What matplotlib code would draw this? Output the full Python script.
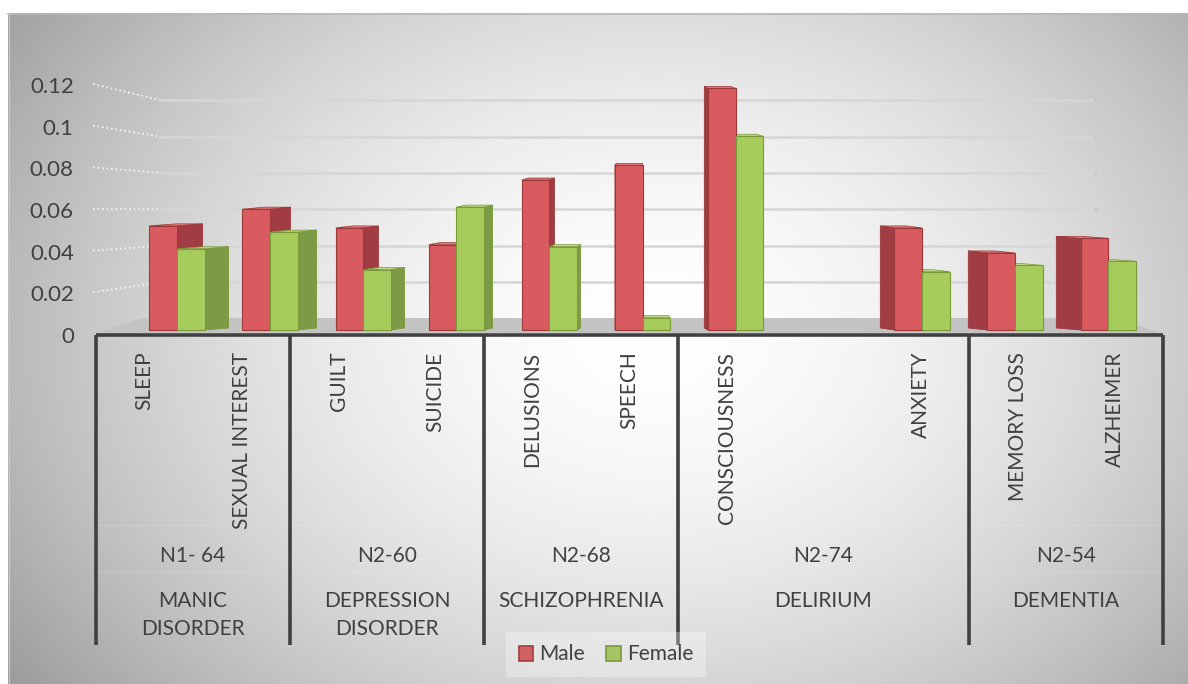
import numpy as np
import matplotlib
matplotlib.use('Agg')
import matplotlib.pyplot as plt
from matplotlib.patches import Polygon, Patch

plt.rcParams['font.family'] = ['Lato', 'DejaVu Sans']

# ---------------- data ----------------
symptoms = ['SLEEP', 'SEXUAL INTEREST', 'GUILT', 'SUICIDE', 'DELUSIONS', 'SPEECH',
            'CONSCIOUSNESS', '', 'ANXIETY', 'MEMORY LOSS', 'ALZHEIMER']
male = [0.050, 0.058, 0.049, 0.041, 0.072, 0.079, 0.116, np.nan, 0.049, 0.037, 0.044]
female = [0.039, 0.047, 0.029, 0.059, 0.040, 0.006, 0.093, np.nan, 0.028, 0.031, 0.033]
samples = ['N1- 64', 'N2-60', 'N2-68', 'N2-74', 'N2-54']
groups = ['MANIC\nDISORDER', 'DEPRESSION\nDISORDER', 'SCHIZOPHRENIA', 'DELIRIUM', 'DEMENTIA']
group_sizes = [2, 2, 2, 3, 2]
yticks = [0, 0.02, 0.04, 0.06, 0.08, 0.1, 0.12]
ytick_labels = ['0', '0.02', '0.04', '0.06', '0.08', '0.1', '0.12']
series_names = ['Male', 'Female']

# ---------------- styling ----------------
TXT = '#404040'
M_FRONT, M_SIDE, M_TOP, M_EDGE = '#d95b5f', '#a23c44', '#e27a7c', '#9c3a3a'
F_FRONT, F_SIDE, F_TOP, F_EDGE = '#a6cd5c', '#7c9b47', '#bcd985', '#7a9a3a'
FS = 15

W, H = 1188, 684
fig = plt.figure(figsize=(W / 100, H / 100), dpi=100)

# background layer in pixel coordinates
bg = fig.add_axes([0, 0, 1, 1])
bg.set_xlim(0, W)
bg.set_ylim(H, 0)
bg.axis('off')
yy, xx = np.mgrid[0:H, 0:W]
r = np.sqrt(((xx - 650) / 640.0) ** 2 + ((yy - 330) / 480.0) ** 2)
g = 1 - 0.27 * np.clip(r, 0, 1.3) ** 1.7
g[(xx < 8) | (yy < 13)] = 1.0
bg.imshow(np.dstack([g, g, g]), extent=(0, W, H, 0), interpolation='bilinear',
          aspect='auto', zorder=0)
bg.plot([8, W], [13.5, 13.5], color='#b8b8b8', lw=1.2, zorder=1)
bg.plot([8.5, 8.5], [13, H], color='#c8c8c8', lw=0.8, zorder=1)

# main axes geometry (pixels)
AX_L, AX_R, AX_B, AX_T = 96, 1163, 335, 85
ax = fig.add_axes([AX_L / W, (H - AX_B) / H, (AX_R - AX_L) / W, (AX_B - AX_T) / H])
ax.patch.set_alpha(0)
for s in ax.spines.values():
    s.set_visible(False)
n = len(symptoms)
ax.set_xlim(-0.5, n - 0.5)
ax.set_ylim(0, 0.12)
ax.set_yticks(yticks)
ax.set_yticklabels(ytick_labels, fontsize=16, color=TXT)
ax.set_xticks(range(n))
ax.set_xticklabels(symptoms, rotation=90, fontsize=FS, color=TXT, va='top', ha='center')
ax.tick_params(axis='both', length=0)
ax.tick_params(axis='y', pad=16)
ax.tick_params(axis='x', pad=12)

ypx = (AX_B - AX_T) / 0.12  # pixels per unit value
slot = (AX_R - AX_L) / n

# gridlines on back wall (dotted slant then solid)
for v in yticks[1:]:
    ly = AX_B - v * ypx
    by = 318.5 - v * 1820
    bg.plot([93, 160], [ly - 1, by], color='#f0f0f0', lw=1.3, ls=(0, (1, 1.5)), zorder=2)
    bg.plot([160, 1095], [by, by], color='#d6d6d6', lw=1.8, zorder=2)
    bg.plot([1095], [by], marker='s', ms=2, color='#c8c8c8', zorder=2)

# floor
bg.add_patch(Polygon([(AX_L, 333), (AX_R, 333), (1112, 318), (142, 318)],
                     closed=True, fc='#c3c3c3', ec='none', zorder=2))

# category axis lines
bg.plot([AX_L, AX_R], [AX_B, AX_B], color=TXT, lw=2.6, zorder=3, solid_capstyle='butt')
bounds = np.concatenate([[0], np.cumsum(group_sizes)])
for b in bounds:
    x = AX_L + b * slot
    bg.plot([x, x], [AX_B, 645], color=TXT, lw=2.6, zorder=3, solid_capstyle='butt')
for yl in (525, 571):
    bg.plot([AX_L, AX_R], [yl, yl], color='#eeeeee', lw=0.8, alpha=0.25, zorder=2)
for i in range(len(groups)):
    xc = AX_L + (bounds[i] + bounds[i + 1]) / 2 * slot
    bg.text(xc, 556, samples[i], ha='center', va='center', fontsize=FS, color=TXT, zorder=4)
    bg.text(xc, 591, groups[i], ha='center', va='top', fontsize=FS, color=TXT,
            linespacing=1.5, zorder=4)

# ---------------- pseudo-3D bars ----------------
scale, shift = 0.96, 0.335       # front-plane perspective placement
vp = 5.11                         # horizontal vanishing position (data units)
k = 0.055                         # depth factor
w = 0.285
base = 5 / ypx
dy = 2 / ypx


def draw_bar(x0, x1, v, front, side, top, edge):
    if np.isnan(v):
        return
    xe = x1 if x1 < vp else x0
    s = k * (vp - xe)
    ax.add_patch(Polygon([(xe, base), (xe + s, base + dy), (xe + s, base + v + dy), (xe, base + v)],
                         closed=True, fc=side, ec=edge, lw=0.6, zorder=2, clip_on=False))
    s0, s1 = k * (vp - x0), k * (vp - x1)
    t = base + v
    ax.add_patch(Polygon([(x0, t), (x1, t), (x1 + s1, t + dy), (x0 + s0, t + dy)],
                         closed=True, fc=top, ec=edge, lw=0.5, zorder=2.5, clip_on=False))


centers = [shift + scale * i for i in range(n)]
for i in range(n):
    c = centers[i]
    draw_bar(c - w, c, male[i], M_FRONT, M_SIDE, M_TOP, M_EDGE)
    draw_bar(c, c + w, female[i], F_FRONT, F_SIDE, F_TOP, F_EDGE)

ax.bar([c - w for c in centers], male, width=w, bottom=base, align='edge',
       color=M_FRONT, edgecolor=M_EDGE, linewidth=0.8, zorder=3, clip_on=False)
ax.bar(centers, female, width=w, bottom=base, align='edge',
       color=F_FRONT, edgecolor=F_EDGE, linewidth=0.8, zorder=3, clip_on=False)

# legend
handles = [Patch(fc='#cf6262', ec='#a33c3c', lw=1.2), Patch(fc='#a5c466', ec='#7a9a3a', lw=1.2)]
leg = fig.legend(handles, series_names, loc='center', bbox_to_anchor=(606 / W, 29.5 / H),
                 ncol=2, fontsize=FS, frameon=True, handlelength=0.7, handleheight=0.7,
                 handletextpad=0.3, columnspacing=1.0, borderpad=0.6, fancybox=False,
                 labelcolor=TXT)
leg.get_frame().set_facecolor('white')
leg.get_frame().set_alpha(0.3)
leg.get_frame().set_edgecolor('none')

fig.savefig('out.png', dpi=100)
